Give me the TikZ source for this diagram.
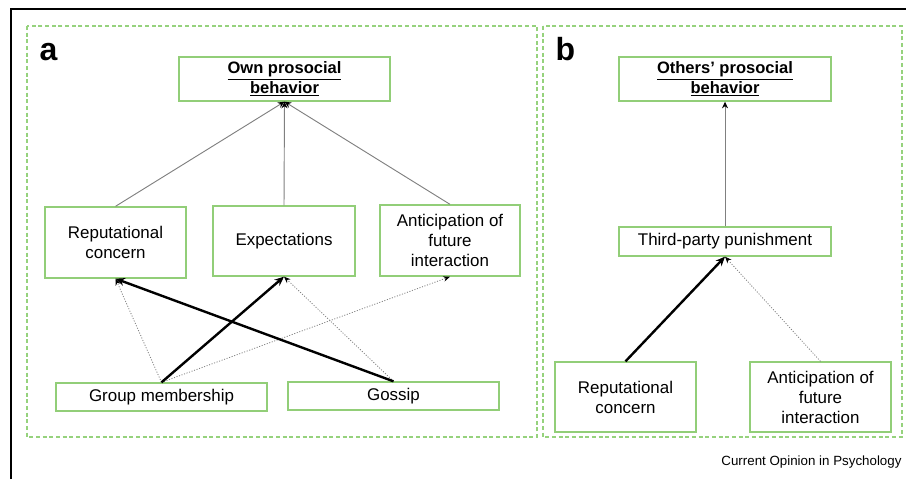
\documentclass[tikz,border=0pt]{standalone}
\usepackage{fontspec}
\setmainfont{Liberation Sans}
\usetikzlibrary{arrows.meta}

\definecolor{boxgreen}{RGB}{146,206,120}
\definecolor{framegreen}{RGB}{150,210,125}
\definecolor{linegray}{RGB}{128,128,128}

\tikzset{every picture/.style={line width=0.75pt}}
\tikzset{
	box/.style={draw=boxgreen, line width=1pt, fill=white, inner sep=0pt, align=center, font=\fontsize{12.7}{15}\selectfont},
	titlebox/.style={box, font=\fontsize{12.4}{15}\selectfont\bfseries},
	panel/.style={draw=framegreen, line width=0.8pt, dash pattern=on 3pt off 2pt},
	plain/.style={draw=linegray, line width=0.7pt, -{Stealth[length=5pt,width=4.5pt,color=black]}},
	strong/.style={draw=black, line width=1.8pt, -{Stealth[length=7pt,width=6pt]}},
	weak/.style={draw=linegray, line width=0.6pt, dash pattern=on 0.8pt off 1.2pt, -{Stealth[length=5pt,width=4pt,color=black]}}
}

\begin{document}
\begin{tikzpicture}[x=0.75pt,y=0.75pt,yscale=-1,xscale=1]
	\useasboundingbox (0,0) rectangle (906,479);

	%Straight Lines
	\draw [line width=1.5]    (11,479) -- (11,9) -- (906,9) ;
	%Shape: Rectangle
	\draw [panel]   (27,26) rectangle (537,437) ;
	%Shape: Rectangle
	\draw [panel]   (543,26) rectangle (902,437) ;

	% Text Node
	\draw (39,60) node [anchor=base west, inner sep=0pt, font=\fontsize{24}{28}\selectfont\bfseries] (lbla) {a};
	% Text Node
	\draw (555,60) node [anchor=base west, inner sep=0pt, font=\fontsize{24}{28}\selectfont\bfseries] (lblb) {b};

	% Text Node
	\draw (284.5,79) node [titlebox, minimum width=158.25pt, minimum height=33pt] (own) {\underline{Own prosocial}\\\underline{behavior}};
	% Text Node
	\draw (115.5,242.5) node [box, minimum width=105.75pt, minimum height=53.25pt] (repa) {Reputational\\concern};
	% Text Node
	\draw (284,241) node [box, minimum width=106.5pt, minimum height=52.5pt] (expect) {Expectations};
	% Text Node
	\draw (450,240.5) node [box, minimum width=105pt, minimum height=53.25pt] (antica) {Anticipation of\\future\\interaction};
	% Text Node
	\draw (161.5,397) node [box, minimum width=158.25pt, minimum height=21pt] (group) {Group membership};
	% Text Node
	\draw (393.5,396) node [box, minimum width=158.25pt, minimum height=21pt] (gossip) {Gossip};

	% Text Node
	\draw (725,79) node [titlebox, minimum width=159pt, minimum height=33pt] (others) {\underline{Others’ prosocial}\\\underline{behavior}};
	% Text Node
	\draw (725,241.5) node [box, minimum width=159pt, minimum height=21.75pt] (tpp) {Third-party punishment};
	% Text Node
	\draw (625.5,397) node [box, minimum width=105.75pt, minimum height=52.5pt] (repb) {Reputational\\concern};
	% Text Node
	\draw (820.5,397) node [box, minimum width=105.75pt, minimum height=52.5pt] (anticb) {Anticipation of\\future\\interaction};

	% Text Node
	\draw (902,465) node [anchor=base east, inner sep=0pt, font=\fontsize{10}{12}\selectfont] (credit) {Current Opinion in Psychology};

	% Connection
	\draw [plain]    (repa.north) -- (own.south) ;
	% Connection
	\draw [plain]    (expect.north) -- (own.south) ;
	% Connection
	\draw [plain]    (antica.north) -- (own.south) ;
	% Connection
	\draw [weak]    (group.north) -- (repa.south) ;
	% Connection
	\draw [weak]    (group.north) -- (antica.south) ;
	% Connection
	\draw [weak]    (gossip.north) -- (expect.south) ;
	% Connection
	\draw [strong]    (group.north) -- (expect.south) ;
	% Connection
	\draw [strong]    (gossip.north) -- (repa.south) ;

	% Connection
	\draw [plain]    (tpp.north) -- (others.south) ;
	% Connection
	\draw [strong]    (repb.north) -- (tpp.south) ;
	% Connection
	\draw [weak]    (anticb.north) -- (tpp.south) ;

\end{tikzpicture}
\end{document}
